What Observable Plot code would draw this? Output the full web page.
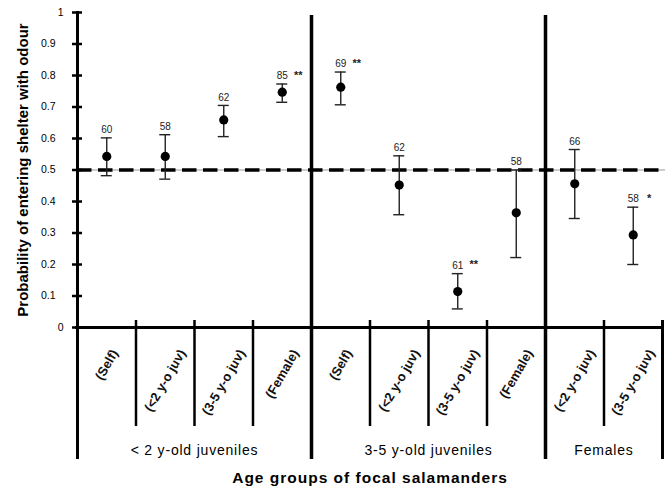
<!DOCTYPE html>
<html>
<head>
<meta charset="utf-8">
<script src="https://cdn.jsdelivr.net/npm/d3@7"></script>
<script src="https://cdn.jsdelivr.net/npm/@observablehq/plot@0.6"></script>
<style>
  html, body { margin: 0; padding: 0; background: #fff; }
  svg { display: block; }
</style>
</head>
<body>
<script>
// ---- data ----
const categories = ["(Self)", "(<2 y-o juv)", "(3-5 y-o juv)", "(Female)",
                    "(Self)", "(<2 y-o juv)", "(3-5 y-o juv)", "(Female)",
                    "(<2 y-o juv)", "(3-5 y-o juv)"];
const groupLabels = ["< 2 y-old juveniles", "3-5 y-old juveniles", "Females"];
const groupSizes = [4, 4, 2];
const means = [0.543, 0.543, 0.659, 0.747, 0.763, 0.452, 0.114, 0.364, 0.456, 0.294];
const lower = [0.482, 0.471, 0.606, 0.715, 0.707, 0.358, 0.059, 0.222, 0.346, 0.200];
const upper = [0.602, 0.612, 0.705, 0.773, 0.811, 0.545, 0.171, 0.500, 0.565, 0.382];
const nValues = [60, 58, 62, 85, 69, 62, 61, 58, 66, 58];
const stars = ["", "", "", "**", "**", "", "**", "", "", "*"];
const yTicksInner = [0.1, 0.2, 0.3, 0.4, 0.5, 0.6, 0.7, 0.8, 0.9];
const yTicksOuter = [0, 1];
const chanceLevel = 0.5;
const yTitle = "Probability of entering shelter with odour";
const xTitle = "Age groups of focal salamanders";

// ---- derived tables ----
const rows = categories.map((c, i) => ({i, c, mean: means[i], lo: lower[i], hi: upper[i], n: nValues[i], s: stars[i]}));
const groupStarts = [];
let acc = 0;
for (const s of groupSizes) { groupStarts.push(acc); acc += s; }
const groups = groupLabels.map((g, k) => ({g, start: groupStarts[k], size: groupSizes[k]}));
const groupInner = groupStarts.slice(1);          // dividers between groups
const innerBounds = d3.range(1, categories.length).filter(b => !groupInner.includes(b));

const FONT = "'Liberation Sans', Arial, Helvetica, sans-serif";
const ctx = document.createElement("canvas").getContext("2d");
ctx.font = `bold 13px ${FONT}`;
const AXIS_Y = 327, LABEL_TOP = 347, ANG = 60 * Math.PI / 180;
const catLabelMarks = rows.map(r => {
  const L = ctx.measureText(r.c).width;
  const vext = L * Math.sin(ANG) + 13 * Math.cos(ANG);
  return Plot.text([r], {
    x: d => d.i + 0.5, text: d => d.c, frameAnchor: "bottom",
    rotate: -60, textAnchor: "middle", lineAnchor: "middle",
    dy: LABEL_TOP + vext / 2 - AXIS_Y,
    fontSize: 13, fontWeight: "bold", fill: "#111"
  });
});

const chart = Plot.plot({
  width: 669,
  height: 489,
  marginLeft: 77,
  marginRight: 7,
  marginTop: 12,
  marginBottom: 162,
  x: {domain: [0, categories.length], axis: null},
  y: {domain: [0, 1]},
  style: {fontFamily: FONT, background: "#fff", color: "#000"},
  marks: [
    // chance line
    Plot.ruleY([chanceLevel], {stroke: "#9a9a9a", strokeWidth: 1, insetRight: -3}),
    Plot.ruleY([chanceLevel], {stroke: "#000", strokeWidth: 3.5, strokeDasharray: "14.5,6.5", insetRight: -3}),
    // category separators below the axis
    Plot.ruleX(innerBounds, {x: d => d, y1: 0, y2: 0, insetTop: -7, insetBottom: -99, stroke: "#000", strokeWidth: 2.5}),
    // group dividers
    Plot.ruleX(groupInner, {x: d => d, insetTop: 3, insetBottom: -132, stroke: "#000", strokeWidth: 3.5}),
    Plot.ruleX([categories.length], {x: d => d, y1: 0, y2: 0, insetTop: -7, insetBottom: -132, stroke: "#000", strokeWidth: 3}),
    // y axis line
    Plot.ruleX([0], {x: d => d, insetTop: -1, insetBottom: -132, stroke: "#000", strokeWidth: 3}),
    // x axis line
    Plot.ruleY([0], {insetLeft: -2, stroke: "#000", strokeWidth: 3}),
    // y ticks (crossing) and labels
    Plot.axisY([...yTicksOuter, ...yTicksInner], {tickSize: 10, dx: 5, fill: "none", strokeWidth: 2.5, label: null}),
    Plot.axisY(yTicksInner, {tickSize: 0, tickPadding: 22, fontSize: 10.5, label: null, tickFormat: d => String(d)}),
    Plot.axisY(yTicksOuter, {tickSize: 0, tickPadding: 14, fontSize: 10.5, label: null, tickFormat: d => String(d)}),
    // error bars
    Plot.ruleX(rows, {x: d => d.i + 0.5, y1: "lo", y2: "hi", stroke: "#222", strokeWidth: 1.4}),
    Plot.ruleY(rows, {y: "hi", x1: d => d.i + 0.5, x2: d => d.i + 0.5, insetLeft: -5.5, insetRight: -5.5, stroke: "#222", strokeWidth: 1.4}),
    Plot.ruleY(rows, {y: "lo", x1: d => d.i + 0.5, x2: d => d.i + 0.5, insetLeft: -5.5, insetRight: -5.5, stroke: "#222", strokeWidth: 1.4}),
    // means
    Plot.dot(rows, {x: d => d.i + 0.5, y: "mean", r: 4.6, fill: "#000", stroke: "none"}),
    // sample sizes and significance
    Plot.text(rows, {x: d => d.i + 0.5, y: "hi", text: d => String(d.n), dy: -8, fontSize: 10, fill: "#222"}),
    Plot.text(rows, {x: d => d.i + 0.5, y: "hi", text: "s", dy: -9, dx: 16, fontSize: 11, fontWeight: "bold", fill: "#222"}),
    // rotated category labels
    ...catLabelMarks,
    // group labels
    Plot.text(groups, {x: d => d.start + d.size / 2, text: "g", frameAnchor: "bottom", lineAnchor: "middle", dy: 123, fontSize: 14, fill: "#000"}),
    // axis titles
    Plot.text([xTitle], {text: d => d, frameAnchor: "bottom", lineAnchor: "middle", dy: 151, fontSize: 15.5, fontWeight: "bold", fill: "#000"}),
    Plot.text([yTitle], {text: d => d, frameAnchor: "left", textAnchor: "middle", lineAnchor: "middle", rotate: -90, dx: -54, fontSize: 15, fontWeight: "bold", fill: "#000"})
  ]
});
// widen horizontal titles slightly (letter spacing)
d3.select(chart).selectAll("text")
  .filter(function () { return this.textContent === xTitle; })
  .attr("letter-spacing", "1px");
d3.select(chart).selectAll("text")
  .filter(function () { return groupLabels.includes(this.textContent); })
  .attr("letter-spacing", "0.8px");
document.body.appendChild(chart);
</script>
</body>
</html>
